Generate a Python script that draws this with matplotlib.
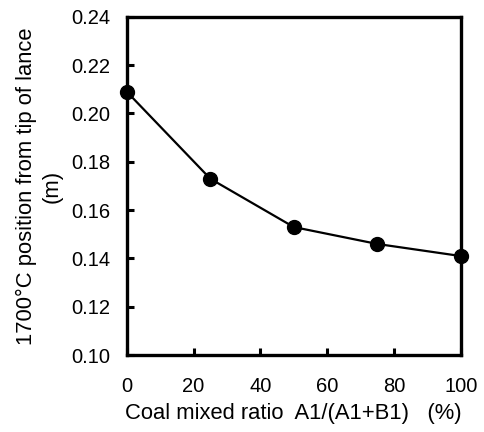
import matplotlib
matplotlib.use("Agg")
import matplotlib.pyplot as plt

ratio = [0, 25, 50, 75, 100]
position = [0.209, 0.173, 0.153, 0.146, 0.141]
xticks = [0, 20, 40, 60, 80, 100]
yticks = [0.10, 0.12, 0.14, 0.16, 0.18, 0.20, 0.22, 0.24]

plt.rcParams['font.family'] = ['Liberation Sans', 'DejaVu Sans']

fig = plt.figure(figsize=(4.84, 4.32), dpi=100)
ax = fig.add_axes([0.262, 0.178, 0.690, 0.783])
ax.plot(ratio, position, color='black', lw=1.6, marker='o', ms=10,
        clip_on=False, zorder=3)
ax.set_xlim(0, 100)
ax.set_ylim(0.10, 0.24)
ax.set_xticks(xticks)
ax.set_yticks(yticks)
ax.set_xticklabels([str(v) for v in xticks])
ax.set_yticklabels([f"{v:.2f}" for v in yticks])
for s in ax.spines.values():
    s.set_linewidth(2.4)
ax.tick_params(axis='both', direction='in', length=5, width=2.2, labelsize=14.5)
ax.tick_params(axis='y', pad=12)
ax.tick_params(axis='x', pad=16)
ax.set_ylabel("1700°C position from tip of lance\n(m)", fontsize=15.8, labelpad=6,
              linespacing=1.3)
ax.set_xlabel("Coal mixed ratio  A1/(A1+B1)   (%)", fontsize=15.8, labelpad=5)
fig.savefig("out.png", dpi=100)
